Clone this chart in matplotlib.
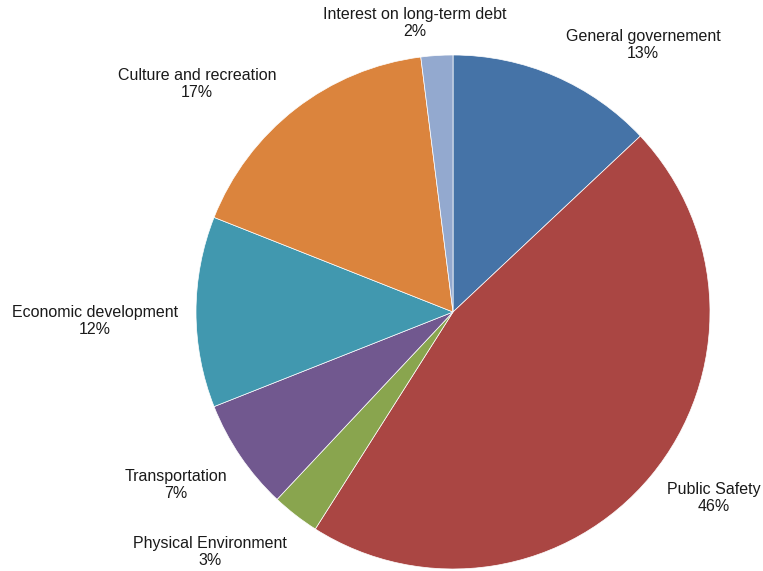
import matplotlib
matplotlib.use("Agg")
import matplotlib.pyplot as plt

# spending shares, clockwise from 12 o'clock
categories = ["General governement", "Public Safety", "Physical Environment",
              "Transportation", "Economic development", "Culture and recreation",
              "Interest on long-term debt"]
shares = [13, 46, 3, 7, 12, 17, 2]
colors = ["#4573A7", "#AA4643", "#89A54E", "#71588F", "#4198AF", "#DB843D", "#93A9CF"]

# label centres in pixel space (x from left, y from top)
label_xy = [(643, 45), (714, 498), (210, 552), (176, 485),
            (95, 321), (197, 84), (415, 23)]

W, H = 763, 571
fig = plt.figure(figsize=(W / 100, H / 100), dpi=100)
ax = fig.add_axes([0, 0, 1, 1])

ax.pie(shares, colors=colors, startangle=90, counterclock=False,
       center=(453, H - 312), radius=257,
       wedgeprops=dict(edgecolor="white", linewidth=0.5))

for name, val, (x, y) in zip(categories, shares, label_xy):
    ax.text(x, H - y, "%s\n%d%%" % (name, val), ha="center", va="center",
            fontsize=11.5, family="Liberation Sans", color="#1a1a1a",
            linespacing=1.2)

ax.set_xlim(0, W)
ax.set_ylim(0, H)
ax.set_aspect("equal")
ax.axis("off")
fig.savefig("out.png", dpi=100)
